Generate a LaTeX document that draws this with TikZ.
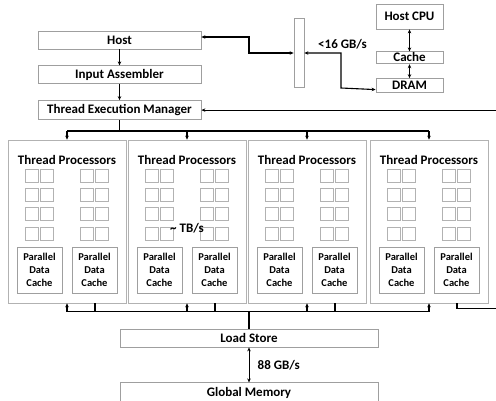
\documentclass[tikz,border=0pt]{standalone}
\usepackage{fontspec}
\setmainfont{Carlito}
\usetikzlibrary{arrows.meta,positioning,calc}
\tikzset{
  >=Stealth,
  box/.style={rectangle, draw=gray!75, line width=0.8pt, inner sep=0pt, font=\bfseries\fontsize{13}{14}\selectfont},
  tpbox/.style={rectangle, draw=gray!60, line width=0.7pt, minimum width=118pt, minimum height=163pt},
  smbox/.style={rectangle, draw=gray!60, double, double distance=1.2pt, line width=0.5pt, minimum width=51pt, minimum height=133pt},
  core/.style={rectangle, draw=gray!60, line width=0.6pt, minimum size=13pt, inner sep=0pt},
  pdc/.style={rectangle, draw=gray!75, line width=0.7pt, minimum width=45pt, minimum height=46pt, inner sep=0pt, align=center, font=\bfseries\fontsize{10.5}{13}\selectfont},
  arrow/.style={-{Stealth[length=4pt,width=3.5pt]}, line width=1.1pt},
  twoway/.style={{Stealth[length=4pt,width=3.5pt]}-{Stealth[length=4pt,width=3.5pt]}, line width=1.1pt},
  wire/.style={line width=1.1pt},
  lbl/.style={font=\bfseries\fontsize{13}{14}\selectfont}
}

\begin{document}
\begin{tikzpicture}[x=1pt, y=-1pt]
  \useasboundingbox (0,0) rectangle (496,401);
  \clip (0,0) rectangle (496,401);

  % host side
  \node[box, minimum width=163pt, minimum height=18pt] (host) at (119.5,40) {Host};
  \node[box, minimum width=163pt, minimum height=18pt, below=16pt of host] (ia) {Input Assembler};
  \node[box, minimum width=163pt, minimum height=19pt, below=16pt of ia] (tem) {Thread Execution Manager};
  \draw[arrow] (host) -- (ia);
  \draw[arrow] (ia) -- (tem);

  % cpu side
  \node[box, minimum width=10pt, minimum height=69pt] (bus) at (299,53) {};
  \node[box, minimum width=67pt, minimum height=25pt] (cpu) at (409.5,16.5) {Host CPU};
  \node[box, minimum width=67pt, minimum height=12pt, text height=8pt, text depth=0pt, below=22pt of cpu] (cache) {Cache};
  \node[box, minimum width=67pt, minimum height=14pt, text height=8pt, text depth=0pt, below=14pt of cache] (dram) {DRAM};
  \draw[twoway, line width=0.8pt] (cpu) -- (cache);
  \draw[twoway, line width=0.8pt] (cache) -- (dram);
  \draw[twoway] ([yshift=3pt]host.east) -- (249,37) -- (249,53) -- (bus.west);
  \draw[twoway] (bus.east) -- (341,53) -- (341,88) -- ([yshift=-4pt]dram.west);
  \node[lbl] (pcie) at (342.5,44.5) {<16 GB/s};

  % thread processors
  \foreach \i/\x in {1/8,2/128,3/248,4/370}{
    \node[tpbox] (tp\i) at (\x+59,221.5) {};
    \foreach \s/\dx in {a/31.5,b/86.5}{
      \node[smbox] (sm\i\s) at (\x+\dx,229.5) {};
      \foreach \c/\dc in {1/-7.5,2/7.5}
        \foreach \r in {0,...,3}
          \node[core] (c\i\s\c\r) at (\x+\dx+\dc,175.5+19.4*\r) {};
      \node[pdc] (pdc\i\s) at (\x+\dx,270) {Parallel\\Data\\Cache};
    }
    \node[lbl] (title\i) at (\x+59,159.5) {Thread Processors};
  }
  \node[lbl] (tbs) at (187,228) {\textasciitilde{} TB/s};

  % fan out from the manager
  \coordinate (fan) at ($(tem.south)+(0,11)$);
  \draw[wire] (tem.south) -- (fan);
  \draw[wire] (fan -| tp1.north) -- (fan -| tp4.north);
  \foreach \i in {1,...,4}
    \draw[arrow] (fan -| tp\i.north) -- (tp\i.north);

  % load store and memory
  \node[box, minimum width=258pt, minimum height=18pt] (ls) at (249,338) {Load Store};
  \node[box, minimum width=258pt, minimum height=30pt, text height=9pt, text depth=12pt, below=35pt of ls] (gm) {Global Memory};
  \draw[twoway, line width=0.8pt] (ls) -- node[lbl, right=5pt] (gbs) {88 GB/s} (gm);

  \coordinate (ret) at ($(ls.north)+(0,-17)$);
  \draw[wire] (ls.north) -- (ret);
  \draw[wire] (ret -| tp1.south) -- (ret -| tp4.south);
  \foreach \i in {1,...,4}
    \draw[arrow] (ret -| tp\i.south) -- (tp\i.south);
  \foreach \i in {1,...,3}
    \draw[wire] ([xshift=28pt]tp\i.south) |- (ret);
  \draw[arrow] ([xshift=28pt]tp4.south) -- ++(0,5) -- ++(70,0) |- (tem.east);
\end{tikzpicture}
\end{document}
